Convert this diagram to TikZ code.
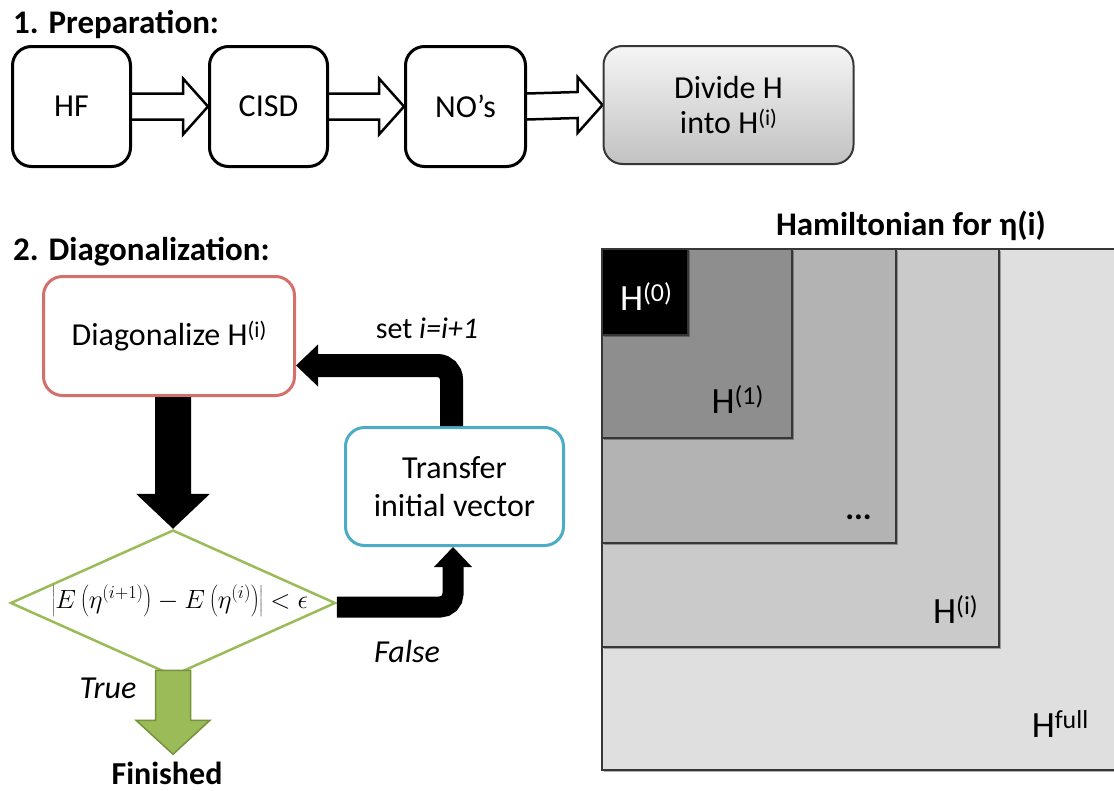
\documentclass[tikz,border=0pt]{standalone}
\usepackage{fontspec}
\setmainfont{Carlito}
\usepackage{graphicx}
\usetikzlibrary{shapes.geometric,calc,shadows}
\pgfdeclarelayer{bg}
\pgfsetlayers{bg,main}

\definecolor{redb}{RGB}{212,112,108}
\definecolor{cyanb}{RGB}{75,172,198}
\definecolor{greenb}{RGB}{155,187,89}
\definecolor{greend}{RGB}{118,146,60}
\definecolor{gone}{RGB}{142,142,142}
\definecolor{gdots}{RGB}{179,179,179}
\definecolor{gi}{RGB}{202,202,202}
\definecolor{gfull}{RGB}{223,223,223}
\definecolor{rectline}{RGB}{55,55,55}

\newcommand\sps[1]{\raisebox{0.24em}{\scalebox{0.7}{#1}}}

\tikzset{
  txt/.style={font=\fontsize{32}{38}\selectfont, inner sep=0pt},
  ttl/.style={font=\bfseries\fontsize{33}{38}\selectfont, inner sep=0pt},
  prep/.style={draw=black, line width=3pt, rounded corners=19pt, fill=white,
    minimum width=118pt, minimum height=120pt, font=\fontsize{32}{38}\selectfont},
  divbox/.style={draw=rectline, line width=2pt, rounded corners=19pt,
    top color=black!4, bottom color=black!24, minimum width=250pt, minimum height=118pt,
    align=center, font=\fontsize{32}{35}\selectfont},
  blockarrow/.style={draw=black, line width=2.5pt, fill=white, line join=miter},
  diagbox/.style={draw=redb, line width=3pt, rounded corners=19pt, fill=white,
    minimum width=251pt, minimum height=119pt, font=\fontsize{32}{38}\selectfont},
  transbox/.style={draw=cyanb, line width=3pt, rounded corners=19pt, fill=white,
    minimum width=218pt, minimum height=118pt, align=center, font=\fontsize{32}{38}\selectfont},
  condshape/.style={diamond, draw=greenb, line width=2.5pt, fill=white, inner sep=0pt,
    minimum width=325pt, minimum height=146pt},
  hrect/.style={draw=rectline, line width=1.3pt,
    drop shadow={shadow xshift=1.5pt, shadow yshift=-1.5pt, opacity=0.3, fill=black}},
  hlab/.style={font=\fontsize{37}{44}\selectfont, inner sep=0pt, anchor=base},
}

\begin{document}
\begin{tikzpicture}[x=1pt,y=-1pt]
\useasboundingbox (0,0) rectangle (1114,790);
\begin{pgfonlayer}{bg}
\fill[white] (0,0) rectangle (1114,790);
\end{pgfonlayer}

% ---------- titles ----------
\node[ttl, anchor=base west] (t1) at (13,33) {1. Preparation:};
\node[ttl, anchor=base west] (t2) at (13,260) {2. Diagonalization:};
\node[ttl, anchor=base] (t3) at (911,235) {Hamiltonian for η(i)};

% ---------- preparation row ----------
\node[prep] (hf) at (71.5,106.5) {HF};
\node[prep] (cisd) at (268.5,106.5) {CISD};
\node[prep, minimum width=120pt] (nos) at (465.5,106.5) {NO’s};
\node[divbox] (div) at (728.5,105) {Divide H\\into H\sps{(i)}};

\begin{pgfonlayer}{bg}
\draw[blockarrow] ($(hf.east)+(0,-13)$) -- ($(cisd.west)+(-25,-13)$) -- ($(cisd.west)+(-25,-28)$)
  -- (cisd.west) -- ($(cisd.west)+(-25,28)$) -- ($(cisd.west)+(-25,13)$) -- ($(hf.east)+(0,13)$);
\draw[blockarrow] ($(cisd.east)+(0,-13)$) -- ($(nos.west)+(-25,-13)$) -- ($(nos.west)+(-25,-28)$)
  -- (nos.west) -- ($(nos.west)+(-25,28)$) -- ($(nos.west)+(-25,13)$) -- ($(cisd.east)+(0,13)$);
\draw[blockarrow] ($(nos.east)+(0,-13)$) -- ($(div.west)+(-25,-13)$) -- ($(div.west)+(-25,-28)$)
  -- (div.west) -- ($(div.west)+(-25,28)$) -- ($(div.west)+(-25,13)$) -- ($(nos.east)+(0,13)$);
\end{pgfonlayer}

% ---------- diagonalization loop ----------
\node[diagbox] (diag) at (169,336) {Diagonalize H\sps{(i)}};
\node[transbox] (tr) at (454.5,486.5) {Transfer\\initial vector};
\node[condshape] (dia) at (173,603) {};
\node[inner sep=0pt, font=\fontsize{25}{30}\selectfont] (cond) at (180,601)
  {\scalebox{1.06}{$\left|E\left(\eta^{(i+1)}\right)-E\left(\eta^{(i)}\right)\right|<\epsilon$}};

% down arrow
\coordinate (d0) at (dia.north |- diag.south);
\fill ($(d0)+(-18,0)$) -- ($(d0)+(18,0)$) -- ($(dia.north)+(18,-35)$) -- ($(dia.north)+(37,-35)$)
  -- (dia.north) -- ($(dia.north)+(-37,-35)$) -- ($(dia.north)+(-18,-35)$) -- cycle;

% upper bent arrow (transfer -> diagonalize)
\coordinate (u0) at ($(tr.north)+(-3,0)$);
\coordinate (utip) at ($(diag.east)+(0,29.5)$);
\draw[line width=23pt, rounded corners=14pt] (u0) -- (u0 |- utip) -- ($(utip)+(20,0)$);
\fill ($(utip)+(22,-21)$) -- (utip) -- ($(utip)+(22,21)$) -- cycle;

% lower bent arrow (condition -> transfer)
\coordinate (l0) at ($(dia.east)+(0,4)$);
\coordinate (ltip) at ($(tr.south)+(-1.5,0)$);
\draw[line width=21pt, rounded corners=13pt] (l0) -- (l0 -| ltip) -- ($(ltip)+(0,18)$);
\fill ($(ltip)+(-19,20)$) -- (ltip) -- ($(ltip)+(19,20)$) -- cycle;

% green arrow
\node[ttl, font=\bfseries\fontsize{32}{38}\selectfont, anchor=base] (fin) at (167,784) {Finished};
\filldraw[fill=greenb, draw=greend, line width=1.5pt, line join=miter]
  ($(dia.south)+(-17.5,-7)$) -- ($(dia.south)+(17.5,-7)$) -- ($(dia.south)+(17.5,43)$)
  -- ($(dia.south)+(37,43)$) -- ($(dia.south)+(0,77)$) -- ($(dia.south)+(-37,43)$)
  -- ($(dia.south)+(-17.5,43)$) -- cycle;

% labels
\node[txt, font=\fontsize{30}{36}\selectfont, anchor=base] (seti) at (427,338) {set \textit{i=i+1}};
\node[txt, anchor=base] (false) at (407,662) {\textit{False}};
\node[txt, anchor=base] (true) at (108,698) {\textit{True}};

% ---------- Hamiltonian blocks ----------
\draw[hrect, fill=gfull] (602,249) rectangle (1130,770);
\draw[hrect, fill=gi] (602,249) rectangle (999,647);
\draw[hrect, fill=gdots] (602,249) rectangle (896,543);
\draw[hrect, fill=gone] (602,249) rectangle (792,438);
\draw[hrect, fill=black] (602,249) rectangle (688,335);

\node[hlab, text=white] (h0) at (646,310) {H\sps{(0)}};
\node[hlab] (h1) at (737.5,413) {H\sps{(1)}};
\node[ttl, anchor=base] (hd) at (858.5,519) {...};
\node[hlab] (hi) at (955.5,623) {H\sps{(i)}};
\node[hlab] (hf2) at (1060,737) {H\sps{full}};
\end{tikzpicture}
\end{document}
